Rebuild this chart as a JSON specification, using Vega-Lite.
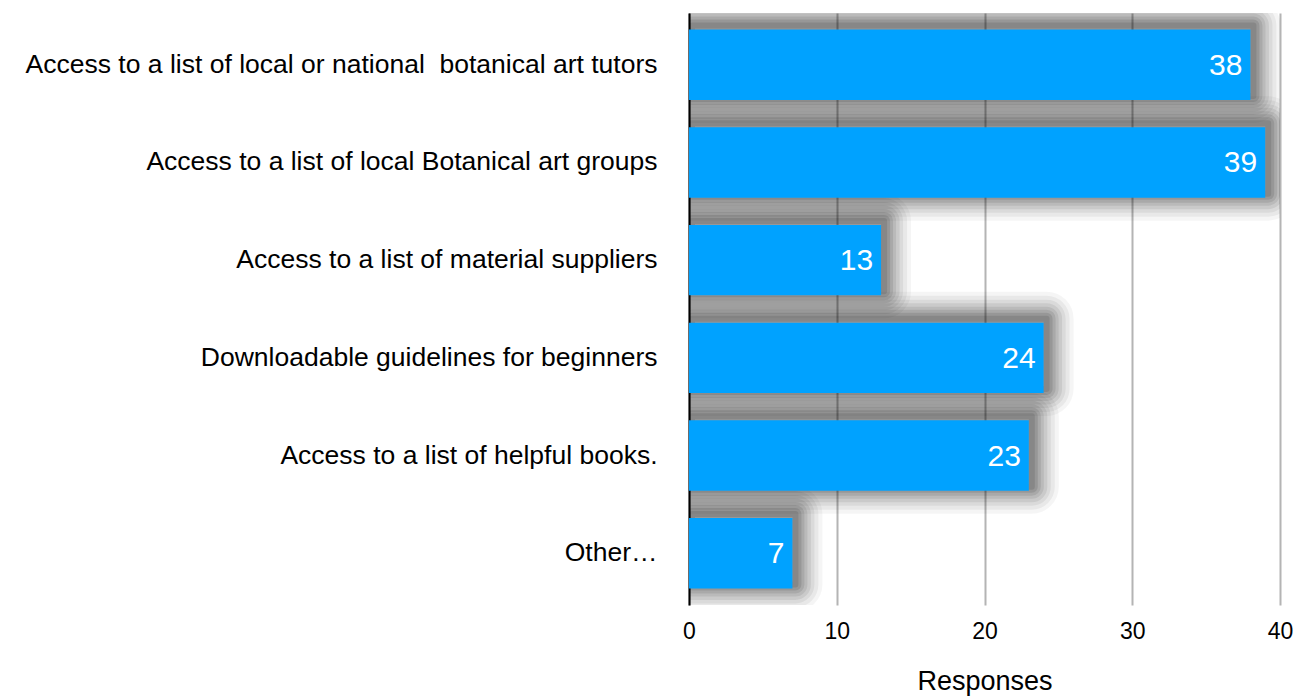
{
  "$schema": "https://vega.github.io/schema/vega-lite/v6.json",
  "autosize": {"type": "none"},
  "padding": {"left": 689, "top": 13, "right": 19, "bottom": 94},
  "width": 591,
  "height": 592,
  "background": "white",
  "config": {
    "font": "Liberation Sans",
    "view": {"stroke": null}
  },
  "data": {
    "values": [
      {"option": "Access to a list of local or national\u00a0 botanical art tutors", "responses": 38},
      {"option": "Access to a list of local Botanical art groups", "responses": 39},
      {"option": "Access to a list of material suppliers", "responses": 13},
      {"option": "Downloadable guidelines for beginners", "responses": 24},
      {"option": "Access to a list of helpful books.", "responses": 23},
      {"option": "Other…", "responses": 7}
    ]
  },
  "encoding": {
    "y": {
      "field": "option",
      "type": "nominal",
      "sort": null,
      "scale": {"paddingInner": 0.28, "paddingOuter": 0.17},
      "axis": {
        "title": null,
        "domain": true,
        "domainColor": "black",
        "domainWidth": 2,
        "ticks": false,
        "labelPadding": 32,
        "labelFontSize": 26.5,
        "labelColor": "black",
        "labelLimit": 700
      }
    },
    "x": {
      "field": "responses",
      "type": "quantitative",
      "scale": {"domain": [0, 40]},
      "axis": {
        "title": "Responses",
        "titleFontSize": 27,
        "titleFontWeight": "normal",
        "titleColor": "black",
        "titlePadding": 25,
        "values": [0, 10, 20, 30, 40],
        "labelFlush": false,
        "domain": false,
        "ticks": false,
        "labelPadding": 15,
        "labelFontSize": 23,
        "labelColor": "black",
        "grid": true,
        "gridColor": "#b4b4b4",
        "gridWidth": 2
      }
    }
  },
  "layer": [
    {"mark": {"type": "bar", "clip": true, "fill": null, "stroke": "black", "strokeOpacity": 0.04, "strokeWidth": 54, "strokeJoin": "round", "xOffset": 3, "yOffset": -4}},
    {"mark": {"type": "bar", "clip": true, "fill": null, "stroke": "black", "strokeOpacity": 0.05, "strokeWidth": 46, "strokeJoin": "round", "xOffset": 3, "yOffset": -4}},
    {"mark": {"type": "bar", "clip": true, "fill": null, "stroke": "black", "strokeOpacity": 0.06, "strokeWidth": 38, "strokeJoin": "round", "xOffset": 3, "yOffset": -4}},
    {"mark": {"type": "bar", "clip": true, "fill": null, "stroke": "black", "strokeOpacity": 0.07, "strokeWidth": 31, "strokeJoin": "round", "xOffset": 3, "yOffset": -4}},
    {"mark": {"type": "bar", "clip": true, "fill": null, "stroke": "black", "strokeOpacity": 0.08, "strokeWidth": 24, "strokeJoin": "round", "xOffset": 3, "yOffset": -4}},
    {"mark": {"type": "bar", "clip": true, "fill": null, "stroke": "black", "strokeOpacity": 0.09, "strokeWidth": 18, "strokeJoin": "round", "xOffset": 3, "yOffset": -4}},
    {"mark": {"type": "bar", "clip": true, "fill": null, "stroke": "black", "strokeOpacity": 0.1, "strokeWidth": 12, "strokeJoin": "round", "xOffset": 3, "yOffset": -4}},
    {"mark": {"type": "bar", "clip": true, "fill": null, "stroke": "black", "strokeOpacity": 0.1, "strokeWidth": 6, "strokeJoin": "round", "xOffset": 3, "yOffset": -4}},
    {"mark": {"type": "bar", "color": "#00a2ff"}},
    {
      "mark": {"type": "text", "align": "right", "baseline": "middle", "dx": -8, "dy": 1, "fontSize": 30, "color": "white"},
      "encoding": {"text": {"field": "responses", "type": "quantitative"}}
    }
  ]
}
